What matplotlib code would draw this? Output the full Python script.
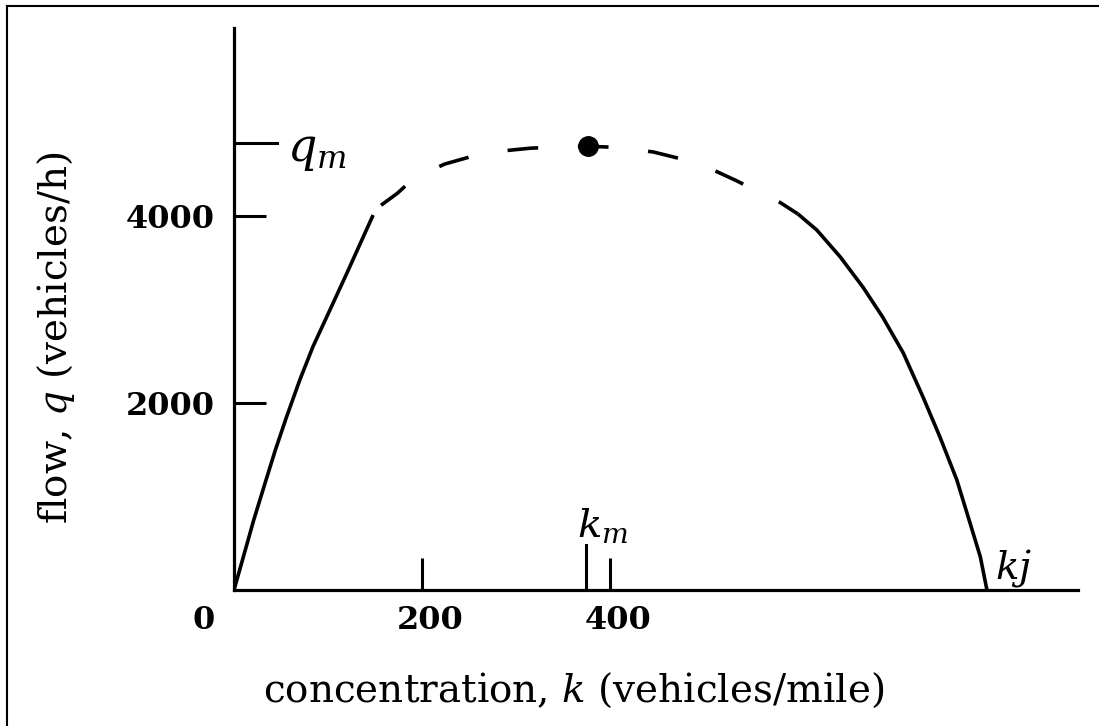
import matplotlib
matplotlib.use("Agg")
import matplotlib.pyplot as plt
from matplotlib.lines import Line2D

plt.rcParams['font.family'] = ['DejaVu Serif']
plt.rcParams['mathtext.fontset'] = 'dejavuserif'

# ---- data ----
left_k = [0, 12, 21, 33, 44, 56, 70, 84, 102, 120, 136, 148]
left_q = [0, 427, 748, 1140, 1496, 1852, 2244, 2600, 2991, 3383, 3739, 4006]

dash_k = [148, 155, 174, 187, 211, 224, 259, 285, 315, 347, 377,
          405, 446, 474, 506, 533, 581, 600]
dash_q = [4006, 4100, 4240, 4360, 4490, 4550, 4650, 4690, 4720, 4735, 4740,
          4730, 4680, 4610, 4505, 4380, 4140, 4017]

right_k = [600, 620, 645, 669, 690, 712, 733, 751, 769, 783, 794, 801]
right_q = [4017, 3846, 3558, 3237, 2917, 2532, 2062, 1635, 1175, 716, 353, 0]

peak_k = [377]
peak_q = [4740]

x_ticks = [200, 400]
x_tick_labels = ["200", "400"]
y_ticks = [2000, 4000]
y_tick_labels = ["2000", "4000"]
k_m = 374
q_m = 4776
k_j = 801

W, H = 1099, 726
fig = plt.figure(figsize=(W / 100, H / 100), dpi=100)
x0, x1 = 234, 1078
y0, y1 = 590, 28
ax = fig.add_axes([x0 / W, (H - y0) / H, (x1 - x0) / W, (y0 - y1) / H])
ax.set_xlim(0, (x1 - x0) / 0.94)
ax.set_ylim(0, (y0 - y1) / 0.0936)

for s in ['top', 'right']:
    ax.spines[s].set_visible(False)
for s in ['left', 'bottom']:
    ax.spines[s].set_linewidth(2.3)
    ax.spines[s].set_color('black')

lw = 2.6
ax.plot(left_k, left_q, color='black', lw=lw, solid_capstyle='butt',
        solid_joinstyle='round')
ax.plot(dash_k, dash_q, color='black', lw=lw, dashes=(0, 3.5, 8.5, 7.5),
        dash_capstyle='butt')
ax.plot(right_k, right_q, color='black', lw=lw, solid_capstyle='butt',
        solid_joinstyle='round')
ax.plot(peak_k, peak_q, 'o', color='black', markersize=14)

ax.set_xticks(x_ticks)
ax.set_xticklabels([])
ax.set_yticks(y_ticks)
ax.set_yticklabels(y_tick_labels, fontsize=23, fontweight='bold')
ax.tick_params(axis='both', direction='in', length=23, width=2.2, color='black')
ax.tick_params(axis='y', pad=14)

# x tick labels placed slightly offset as in the reference
for v, lab in zip(x_ticks, x_tick_labels):
    ax.text(v + 9, -330, lab, ha='center', va='center', fontsize=23, fontweight='bold')
ax.text(-32, -330, "0", ha='center', va='center', fontsize=23, fontweight='bold')

# k_m tick (longer) and q_m tick
ax.add_line(Line2D([k_m, k_m], [0, 480], color='black', lw=2.2))
ax.add_line(Line2D([0, 46], [q_m, q_m], color='black', lw=2.2))

ax.text(56, q_m - 80, r'$q_m$', fontsize=33, ha='left', va='center')
ax.text(k_m + 18, 690, r'$k_m$', fontsize=29, ha='center', va='center')
ax.text(k_j + 9, 230, r'$kj$', fontsize=28, ha='left', va='center')

fig.text(574 / W, 1 - 690 / H, r'concentration, $k$ (vehicles/mile)', fontsize=28,
         ha='center', va='center')
fig.text(56 / W, 1 - 338 / H, r'flow, $q$ (vehicles/h)', fontsize=28,
         ha='center', va='center', rotation=90)

# frame of the scanned figure (left and top edges)
fig.add_artist(Line2D([7 / W, 7 / W], [0, 1 - 6 / H], color='black', lw=1.5,
                      transform=fig.transFigure))
fig.add_artist(Line2D([7 / W, 1], [1 - 6 / H, 1 - 6 / H], color='black', lw=1.5,
                      transform=fig.transFigure))

fig.savefig('out.png', dpi=100)
